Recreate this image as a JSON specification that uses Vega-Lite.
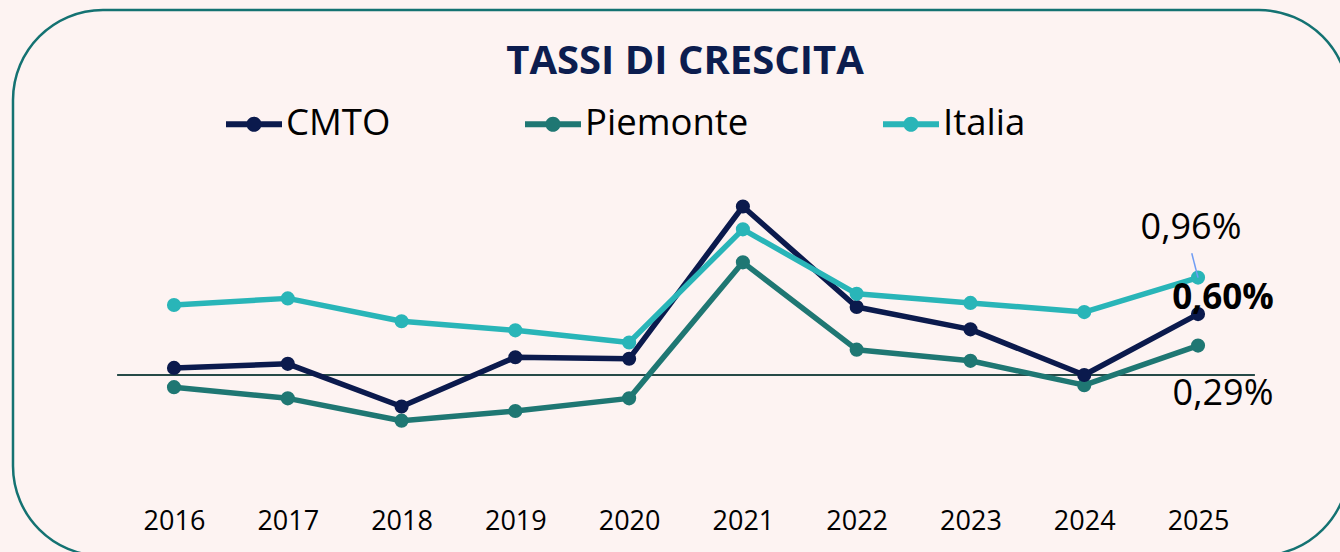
{
  "$schema": "https://vega.github.io/schema/vega-lite/v6.json",
  "width": 1336,
  "height": 546,
  "autosize": "none",
  "padding": {"left": 13, "top": 10, "right": 0, "bottom": 0},
  "background": "#fdf3f2",
  "config": {
    "font": "Open Sans",
    "view": {"stroke": "#147272", "strokeWidth": 2.5, "cornerRadius": 90, "fill": "#fdf3f2"}
  },
  "title": {
    "text": "TASSI DI CRESCITA",
    "font": "Open Sans",
    "fontSize": 40,
    "fontWeight": "bold",
    "color": "#0c1d4f",
    "anchor": "middle",
    "frame": "group",
    "offset": -72,
    "dx": 4
  },
  "datasets": {
    "serie": [
      {"year": 2016, "serie": "Piemonte", "val": -0.12},
      {"year": 2017, "serie": "Piemonte", "val": -0.23},
      {"year": 2018, "serie": "Piemonte", "val": -0.45},
      {"year": 2019, "serie": "Piemonte", "val": -0.355},
      {"year": 2020, "serie": "Piemonte", "val": -0.23},
      {"year": 2021, "serie": "Piemonte", "val": 1.11},
      {"year": 2022, "serie": "Piemonte", "val": 0.25},
      {"year": 2023, "serie": "Piemonte", "val": 0.14},
      {"year": 2024, "serie": "Piemonte", "val": -0.1},
      {"year": 2025, "serie": "Piemonte", "val": 0.29},
      {"year": 2016, "serie": "CMTO", "val": 0.07},
      {"year": 2017, "serie": "CMTO", "val": 0.11},
      {"year": 2018, "serie": "CMTO", "val": -0.31},
      {"year": 2019, "serie": "CMTO", "val": 0.175},
      {"year": 2020, "serie": "CMTO", "val": 0.16},
      {"year": 2021, "serie": "CMTO", "val": 1.66},
      {"year": 2022, "serie": "CMTO", "val": 0.67},
      {"year": 2023, "serie": "CMTO", "val": 0.45},
      {"year": 2024, "serie": "CMTO", "val": 0.0},
      {"year": 2025, "serie": "CMTO", "val": 0.6},
      {"year": 2016, "serie": "Italia", "val": 0.69},
      {"year": 2017, "serie": "Italia", "val": 0.755},
      {"year": 2018, "serie": "Italia", "val": 0.53},
      {"year": 2019, "serie": "Italia", "val": 0.44},
      {"year": 2020, "serie": "Italia", "val": 0.32},
      {"year": 2021, "serie": "Italia", "val": 1.435},
      {"year": 2022, "serie": "Italia", "val": 0.8},
      {"year": 2023, "serie": "Italia", "val": 0.71},
      {"year": 2024, "serie": "Italia", "val": 0.62},
      {"year": 2025, "serie": "Italia", "val": 0.96}
    ],
    "etichette": [
      {"year": 2025, "serie": "Italia", "val": 0.96, "label": "0,96%"},
      {"year": 2025, "serie": "CMTO", "val": 0.6, "label": "0,60%"},
      {"year": 2025, "serie": "Piemonte", "val": 0.29, "label": "0,29%"}
    ],
    "zero": [{"x": 2015.5, "x2": 2025.5, "y": 0}],
    "guida": [{"x": 2024.945, "y": 1.2, "x2": 2025, "y2": 0.96}]
  },
  "layer": [
    {
      "data": {"name": "zero"},
      "mark": {"type": "rule", "color": "#264a48", "strokeWidth": 2},
      "encoding": {
        "x": {"field": "x", "type": "quantitative", "scale": {"domain": [2014.585, 2026.327], "nice": false, "zero": false},
          "axis": {"values": [2016, 2017, 2018, 2019, 2020, 2021, 2022, 2023, 2024, 2025], "format": "d", "title": null, "grid": false, "domain": false, "ticks": false, "tickSize": 0, "labelPadding": 0, "offset": -27, "labelBaseline": "alphabetic", "labelFontSize": 27, "labelFont": "Open Sans", "labelColor": "#000000", "labelFlush": false, "labelOverlap": false}},
        "x2": {"field": "x2"},
        "y": {"field": "y", "type": "quantitative", "scale": {"domain": [-1.783, 3.596], "nice": false, "zero": false}, "axis": null}
      }
    },
    {
      "data": {"name": "serie"},
      "mark": {"type": "line", "strokeWidth": 5.5, "strokeCap": "round", "strokeJoin": "round", "point": {"filled": true, "size": 200, "opacity": 1}},
      "encoding": {
        "x": {"field": "year", "type": "quantitative"},
        "y": {"field": "val", "type": "quantitative"},
        "color": {
          "field": "serie",
          "type": "nominal",
          "scale": {"domain": ["CMTO", "Piemonte", "Italia"], "range": ["#0b1a4d", "#1f7773", "#29b5b8"]},
          "legend": {
            "orient": "none",
            "legendX": 213,
            "legendY": 86,
            "direction": "horizontal",
            "columns": 3,
            "title": null,
            "padding": 0,
            "symbolType": "M-1,-0.11H1V0.11H-1Z M-0.27,0A0.27,0.27 0 1 1 0.27,0A0.27,0.27 0 1 1 -0.27,0Z",
            "symbolSize": 3136,
            "symbolStrokeWidth": 0,
            "labelFontSize": 36.5,
            "labelFont": "Open Sans",
            "labelColor": "#000000",
            "labelOffset": 4,
            "columnPadding": 134,
            "labelLimit": 400,
            "encode": {
              "symbols": {"update": {"fill": {"scale": "color", "field": "value"}, "strokeWidth": {"value": 0}, "opacity": {"value": 1}}}
            }
          }
        },
        "order": {"field": "year"}
      }
    },
    {
      "data": {"name": "etichette"},
      "transform": [{"filter": "datum.serie === 'Italia'"}],
      "mark": {"type": "text", "fontSize": 36, "font": "Open Sans", "color": "#000000", "dx": -7, "dy": -50, "baseline": "middle", "align": "center"},
      "encoding": {
        "x": {"field": "year", "type": "quantitative"},
        "y": {"field": "val", "type": "quantitative"},
        "text": {"field": "label"}
      }
    },
    {
      "data": {"name": "etichette"},
      "transform": [{"filter": "datum.serie === 'CMTO'"}],
      "mark": {"type": "text", "fontSize": 35, "fontWeight": "bold", "font": "Open Sans", "color": "#000000", "dx": 25, "dy": -16, "baseline": "middle", "align": "center"},
      "encoding": {
        "x": {"field": "year", "type": "quantitative"},
        "y": {"field": "val", "type": "quantitative"},
        "text": {"field": "label"}
      }
    },
    {
      "data": {"name": "etichette"},
      "transform": [{"filter": "datum.serie === 'Piemonte'"}],
      "mark": {"type": "text", "fontSize": 36, "font": "Open Sans", "color": "#000000", "dx": 25, "dy": 48, "baseline": "middle", "align": "center"},
      "encoding": {
        "x": {"field": "year", "type": "quantitative"},
        "y": {"field": "val", "type": "quantitative"},
        "text": {"field": "label"}
      }
    },
    {
      "data": {"name": "guida"},
      "mark": {"type": "rule", "color": "#6f9cf4", "strokeWidth": 1.5},
      "encoding": {
        "x": {"field": "x", "type": "quantitative"},
        "y": {"field": "y", "type": "quantitative"},
        "x2": {"field": "x2"},
        "y2": {"field": "y2"}
      }
    }
  ]
}
